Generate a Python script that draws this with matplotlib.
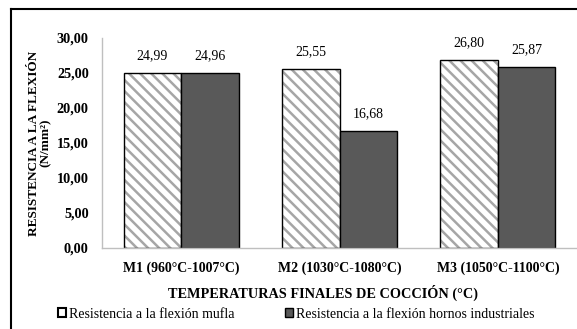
import matplotlib
matplotlib.use("Agg")
import matplotlib.pyplot as plt
import numpy as np
from matplotlib.patches import Patch
from matplotlib.lines import Line2D

categories = ["M1 (960°C-1007°C)", "M2 (1030°C-1080°C)", "M3 (1050°C-1100°C)"]
mufla = [24.99, 25.55, 26.80]
hornos = [24.96, 16.68, 25.87]
yticks = [0, 5, 10, 15, 20, 25, 30]
series_names = ["Resistencia a la flexión mufla", "Resistencia a la flexión hornos industriales"]

plt.rcParams['font.family'] = ['Liberation Serif', 'DejaVu Serif']
plt.rcParams['hatch.linewidth'] = 1.8

fig = plt.figure(figsize=(5.77, 3.29), dpi=100)
ax = fig.add_axes([102/577, 1-248/329, 1-102/577, (248-38)/329])

x = np.arange(len(categories))
w = 0.363
# hatch layer (grey stripes) then black outline on top
ax.bar(x - w/2, mufla, w, facecolor='white', edgecolor='#a6a6a6', linewidth=0, hatch='\\\\\\')
b1 = ax.bar(x - w/2, mufla, w, fill=False, edgecolor='black', linewidth=1.0)
b2 = ax.bar(x + w/2, hornos, w, facecolor='#595959', edgecolor='black', linewidth=1.0)

fmt = lambda v: f"{v:.2f}".replace('.', ',')
ax.bar_label(b1, labels=[fmt(v) for v in mufla], padding=8, fontsize=10)
ax.bar_label(b2, labels=[fmt(v) for v in hornos], padding=8, fontsize=10)

ax.set_xlim(-0.5, 2.5)
ax.set_ylim(0, 30)
ax.set_yticks(yticks)
ax.set_yticklabels([fmt(v) for v in yticks], fontsize=10.3, fontweight='bold')
ax.set_xticks(x)
ax.set_xticklabels(categories, fontsize=10, fontweight='bold')
ax.tick_params(axis='both', length=0)
ax.tick_params(axis='y', pad=9.5)
ax.tick_params(axis='x', pad=10)
for s in ['top', 'right']:
    ax.spines[s].set_visible(False)
for s in ['left', 'bottom']:
    ax.spines[s].set_color('#bfbfbf')
    ax.spines[s].set_linewidth(1.0)
ax.patch.set_alpha(0)

fig.text(323/577, 1-293/329, "TEMPERATURAS FINALES DE COCCIÓN (°C)", ha='center', va='center',
         fontsize=10.3, fontweight='bold')
fig.text(40/577, 1-143/329, "RESISTENCIA A LA FLEXIÓN\n(N/mm²)", ha='center', va='center',
         rotation=90, fontsize=9.5, fontweight='bold', linespacing=1.0, multialignment='center')

handles = [Patch(facecolor='white', edgecolor='black', linewidth=1.5),
           Patch(facecolor='#595959', edgecolor='black', linewidth=1.0)]
fig.legend(handles, series_names, loc='center', bbox_to_anchor=(296/577, 1-314/329), ncol=2,
           frameon=False, fontsize=10, handlelength=0.6, handleheight=0.6, handletextpad=0.2,
           columnspacing=3.6, borderpad=0, borderaxespad=0)

# outer frame (partially cropped)
fig.add_artist(Line2D([11/577, 11/577], [0, 1-9/329], transform=fig.transFigure, color='black', linewidth=1.5))
fig.add_artist(Line2D([11/577, 1], [1-9/329, 1-9/329], transform=fig.transFigure, color='black', linewidth=1.5))

fig.savefig("out.png", dpi=100)
